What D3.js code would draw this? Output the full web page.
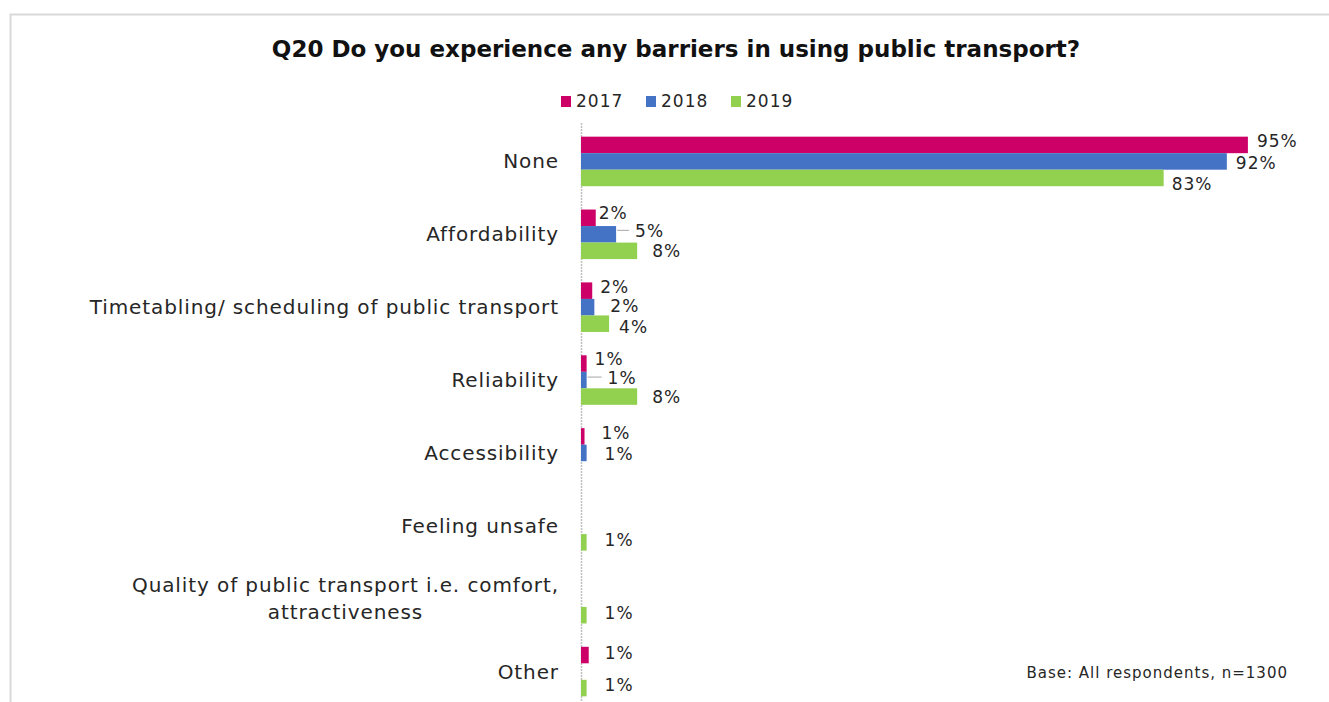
<!DOCTYPE html>
<meta charset="utf-8">
<script src="https://d3js.org/d3.v7.min.js"></script>
<style>
body { margin: 0; background: #fff; }
svg text { font-family: "DejaVu Sans", sans-serif; fill: #262626; }
.cat { font-size: 20px; letter-spacing: 0.9px; }
.val { font-size: 17px; letter-spacing: 1px; }
</style>
<div id="chart"></div>
<script>
// Data (percent of respondents)
var categories = ["None", "Affordability", "Timetabling/ scheduling of public transport",
  "Reliability", "Accessibility", "Feeling unsafe",
  "Quality of public transport i.e. comfort,|attractiveness", "Other"];
var years = ["2017", "2018", "2019"];
var values2017 = [95, 2.1, 1.6, 0.8, 0.5, 0, 0, 1.1];
var values2018 = [92, 5, 1.9, 0.8, 0.8, 0, 0, 0];
var values2019 = [83, 8, 4, 8, 0, 0.8, 0.8, 0.8];
var colors = ["#cc0066", "#4472c4", "#92d050"];

// label nudges (Excel moved some labels apart) [dx, dy] per year per category
var nudge = [
  [[9,-4],[3,-5],[8,-4],[8,-5],[17,-3],[0,0],[0,0],[16,-2]],
  [[9,2],[19,-3],[16,-1],[21,-2],[18,1],[0,0],[0,0],[0,0]],
  [[8,6],[15,0],[10,3],[15,0],[0,0],[18,-2],[18,-2],[18,-3]]
];
var leader = [[1,1],[1,3]]; // [series, category] that get a leader line

var width = 1329, height = 702;
var series = [values2017, values2018, values2019];

var svg = d3.select("#chart").append("svg")
  .attr("width", width).attr("height", height);

// outer frame
svg.append("path")
  .attr("d", "M10.5," + height + "V14.5H" + width)
  .attr("fill", "none").attr("stroke", "#d9d9d9").attr("stroke-width", 2);

// title
svg.append("text")
  .attr("x", 676).attr("y", 49)
  .attr("text-anchor", "middle").attr("dominant-baseline", "central")
  .style("font-size", "23px").style("font-weight", "bold").style("fill", "#111")
  .text("Q20 Do you experience any barriers in using public transport?");

// legend
var legendX = [561, 646, 731];
var legend = svg.append("g").selectAll("g").data(years).enter().append("g")
  .attr("transform", function(d, i){ return "translate(" + legendX[i] + ",0)"; });
legend.append("rect")
  .attr("x", 0).attr("y", 96).attr("width", 10).attr("height", 11)
  .attr("fill", function(d, i){ return colors[i]; });
legend.append("text")
  .attr("x", 15).attr("y", 101)
  .attr("dominant-baseline", "central")
  .attr("class", "val")
  .text(function(d){ return d; });

// scales
var x = d3.scaleLinear().domain([0, 100]).range([581, 1283]);
var y = d3.scaleBand().domain(categories).range([125, 708])
  .paddingInner(0.32).paddingOuter(0.16);
var y1 = d3.scaleBand().domain(years).range([0, y.bandwidth()]);

// axis line (dotted)
svg.append("line")
  .attr("x1", 581.5).attr("x2", 581.5).attr("y1", 123).attr("y2", height)
  .attr("stroke", "#bfbfbf").attr("stroke-width", 1.5).attr("stroke-dasharray", "2,1");

// category labels
var labelRight = 559;
categories.forEach(function(c) {
  var lines = c.split("|");
  var cy = y(c) + y.bandwidth() / 2;
  if (lines.length == 1) {
    svg.append("text")
      .attr("x", labelRight).attr("y", cy)
      .attr("text-anchor", "end").attr("dominant-baseline", "central")
      .attr("class", "cat").text(c);
  } else {
    var t1 = svg.append("text")
      .attr("x", labelRight).attr("y", cy - 14)
      .attr("text-anchor", "end").attr("dominant-baseline", "central")
      .attr("class", "cat").text(lines[0]);
    var w = t1.node().getComputedTextLength();
    svg.append("text")
      .attr("x", labelRight - w / 2).attr("y", cy + 13)
      .attr("text-anchor", "middle").attr("dominant-baseline", "central")
      .attr("class", "cat").text(lines[1]);
  }
});

// bars and value labels
series.forEach(function(vals, s) {
  var g = svg.append("g");
  vals.forEach(function(v, i) {
    if (v <= 0) return;
    var c = categories[i];
    var top = y(c) + y1(years[s]);
    g.append("rect")
      .attr("x", x(0)).attr("y", top)
      .attr("width", x(v) - x(0)).attr("height", y1.bandwidth())
      .attr("fill", colors[s]);
    var lx = x(v) + nudge[s][i][0];
    var ly = top + y1.bandwidth() / 2 + nudge[s][i][1];
    var hasLeader = leader.some(function(l){ return l[0] == s && l[1] == i; });
    if (hasLeader) {
      svg.append("line")
        .attr("x1", x(v) + 1).attr("x2", lx - 6)
        .attr("y1", ly - 1).attr("y2", ly - 1)
        .attr("stroke", "#a6a6a6").attr("stroke-width", 1);
    }
    svg.append("text")
      .attr("x", lx).attr("y", ly)
      .attr("dominant-baseline", "central")
      .attr("class", "val")
      .text(Math.round(v) + "%");
  });
});

// base note
svg.append("text")
  .attr("x", 1288).attr("y", 673)
  .attr("text-anchor", "end").attr("dominant-baseline", "central")
  .style("font-size", "15px").style("letter-spacing", "1px")
  .text("Base: All respondents, n=1300");
</script>
